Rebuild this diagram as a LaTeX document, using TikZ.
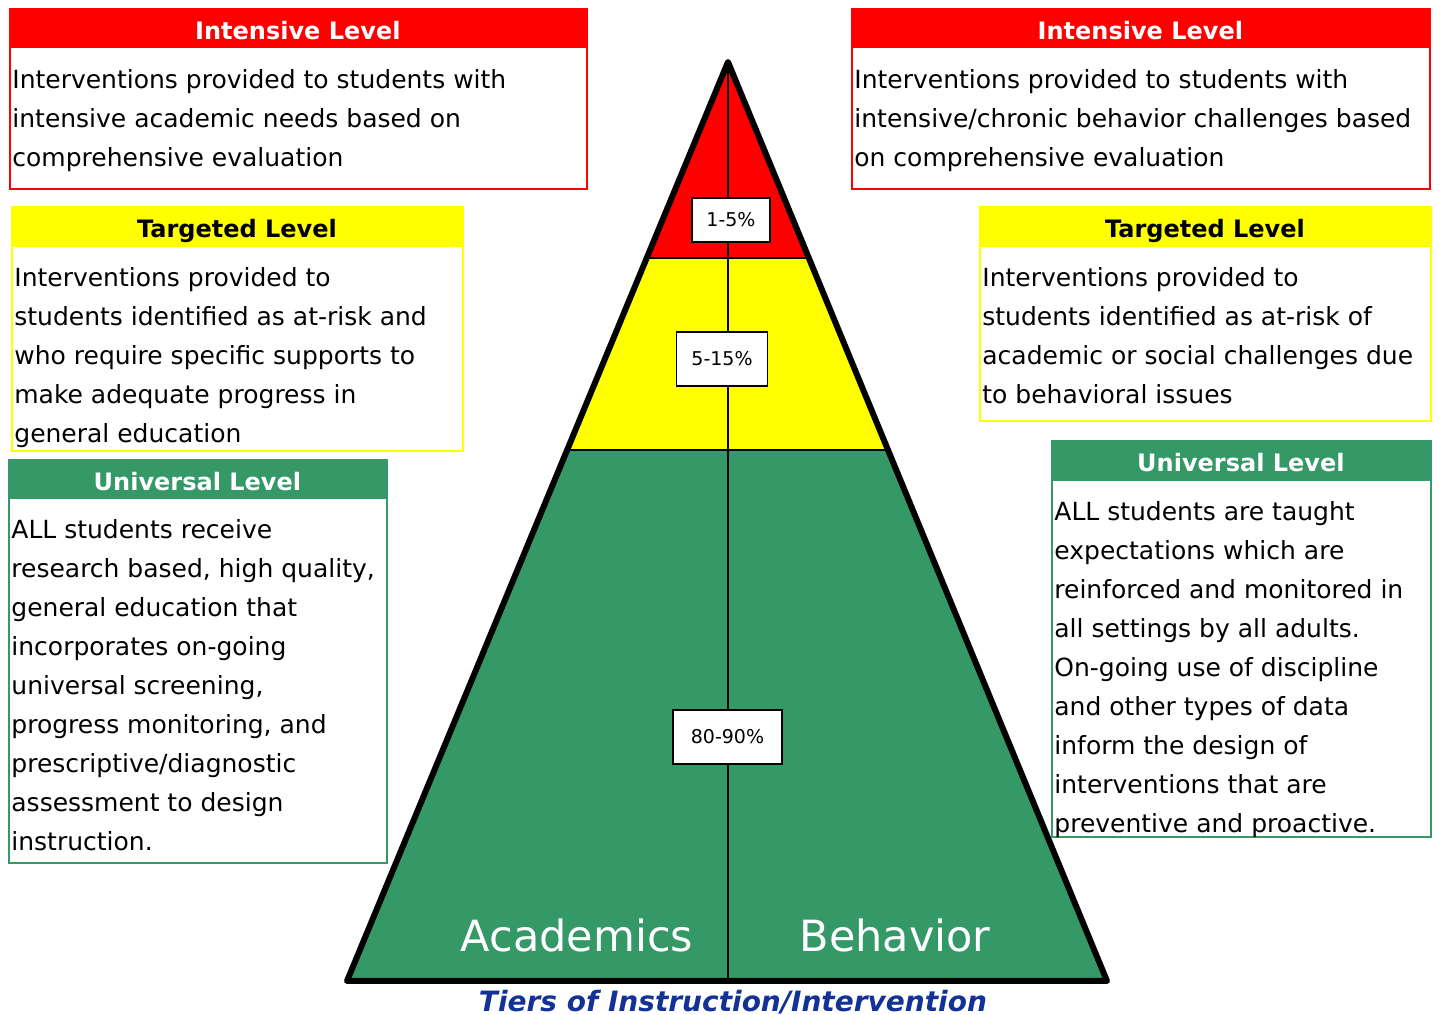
\documentclass[tikz,border=0pt]{standalone}
\usepackage{fontspec}
\setmainfont{DejaVu Sans}
\usepackage{tikz}
\usetikzlibrary{calc,positioning}

\definecolor{tred}{RGB}{255,0,0}
\definecolor{tyellow}{RGB}{255,255,0}
\definecolor{tgreen}{RGB}{52,153,102}
\definecolor{tblue}{RGB}{20,50,150}

\begin{document}
\begin{tikzpicture}[x=0.5pt, y=-0.5pt,
	lvlbox/.style={rectangle, line width=0.8pt, fill=white, inner sep=0pt, anchor=north west},
	head/.style={rectangle, inner sep=0pt, minimum height=20pt, text height=11pt, text depth=0pt, anchor=north west, font=\fontsize{12}{14}\bfseries},
	body/.style={inner sep=0pt, anchor=north west, align=left, font=\fontsize{12.5}{19.5}\selectfont},
	pct/.style={rectangle, draw=black, line width=0.8pt, fill=white, inner sep=0pt, font=\fontsize{9.5}{11}\selectfont},
	tier/.style={text=white, font=\fontsize{21.5}{24}\selectfont}]
	\useasboundingbox (0,0) rectangle (1442,1015);

	% pyramid
	\coordinate (top) at (728,62);
	\coordinate (bl) at (347,981);
	\coordinate (br) at (1107,981);
	\coordinate (bm) at (728,981);
	\coordinate (rl) at ($(top)!0.2133!(bl)$);
	\coordinate (rr) at ($(top)!0.2133!(br)$);
	\coordinate (yl) at ($(top)!0.4222!(bl)$);
	\coordinate (yr) at ($(top)!0.4222!(br)$);

	\fill[tgreen] (top) -- (bl) -- (br) -- cycle;
	\fill[tyellow] (top) -- (yl) -- (yr) -- cycle;
	\fill[tred] (top) -- (rl) -- (rr) -- cycle;
	\draw[line width=0.8pt] (rl) -- (rr);
	\draw[line width=0.6pt] (yl) -- (yr);
	\draw[line width=1pt] (top) -- (bm);
	\draw[line width=3pt, line join=round] (top) -- (bl) -- (br) -- cycle;

	\node[pct, minimum width=39pt, minimum height=22pt] (p1) at (731,220) {1-5\%};
	\node[pct, minimum width=45.5pt, minimum height=27pt] (p2) at (722,359) {5-15\%};
	\node[pct, minimum width=54.5pt, minimum height=27pt] (p3) at (727.5,737) {80-90\%};

	\node[tier] (acad) at (577,935) {Academics};
	\node[tier] (behav) at (895,935) {Behavior};
	\node[text=tblue, font=\fontsize{14}{16}\bfseries\itshape] (title) at (733,1002) {Tiers of Instruction/Intervention};

	% academics side
	\node[lvlbox, draw=tred, minimum width=288.5pt, minimum height=90pt] (ai) at (9,8) {};
	\node[head, fill=tred, text=white, minimum width=288.5pt] (aih) at (ai.north west) {Intensive Level};
	\node[body] (ait) at ([xshift=1.5pt, yshift=-10pt]aih.south west) {Interventions provided to students with\\
		intensive academic needs based on\\comprehensive evaluation};

	\node[lvlbox, draw=tyellow, minimum width=225.5pt, minimum height=122pt] (at) at (11,206) {};
	\node[head, fill=tyellow, minimum width=225.5pt, minimum height=20.5pt] (ath) at (at.north west) {Targeted Level};
	\node[body] (att) at ([xshift=1.5pt, yshift=-9.5pt]ath.south west) {Interventions provided to\\
		students identified as at-risk and\\who require specific supports to\\
		make adequate progress in\\general education};

	\node[lvlbox, draw=tgreen, minimum width=189pt, minimum height=201.5pt] (au) at (8,459) {};
	\node[head, fill=tgreen, text=white, minimum width=189pt] (auh) at (au.north west) {Universal Level};
	\node[body] (aut) at ([xshift=1.5pt, yshift=-9.5pt]auh.south west) {ALL students receive\\
		research based, high quality,\\general education that\\incorporates on-going\\
		universal screening,\\progress monitoring, and\\prescriptive/diagnostic\\
		assessment to design\\instruction.};

	% behavior side
	\node[lvlbox, draw=tred, minimum width=289pt, minimum height=90pt] (bi) at (851,8) {};
	\node[head, fill=tred, text=white, minimum width=289pt] (bih) at (bi.north west) {Intensive Level};
	\node[body] (bit) at ([xshift=1.5pt, yshift=-10pt]bih.south west) {Interventions provided to students with\\
		intensive/chronic behavior challenges based\\on comprehensive evaluation};

	\node[lvlbox, draw=tyellow, minimum width=225.5pt, minimum height=107pt] (bt) at (979,206) {};
	\node[head, fill=tyellow, minimum width=225.5pt, minimum height=20.5pt] (bth) at (bt.north west) {Targeted Level};
	\node[body] (btt) at ([xshift=1.5pt, yshift=-9.5pt]bth.south west) {Interventions provided to\\
		students identified as at-risk of\\academic or social challenges due\\to behavioral issues};

	\node[lvlbox, draw=tgreen, minimum width=189.5pt, minimum height=198pt] (bu) at (1051,440) {};
	\node[head, fill=tgreen, text=white, minimum width=189.5pt, minimum height=20.5pt] (buh) at (bu.north west) {Universal Level};
	\node[body] (but) at ([xshift=1.5pt, yshift=-9.5pt]buh.south west) {ALL students are taught\\
		expectations which are\\reinforced and monitored in\\all settings by all adults.\\
		On-going use of discipline\\and other types of data\\inform the design of\\
		interventions that are\\preventive and proactive.};
\end{tikzpicture}
\end{document}
